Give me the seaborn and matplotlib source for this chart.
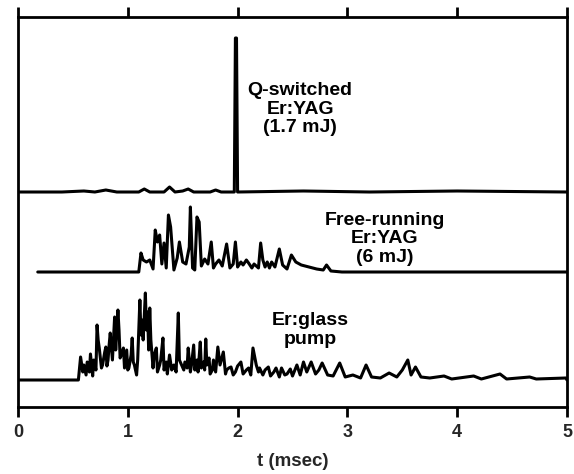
#!/usr/bin/env python
"""
Laser pulse traces: Q-switched Er:YAG, free-running Er:YAG and Er:glass pump.
"""
import matplotlib

matplotlib.use("Agg")
import matplotlib.pyplot as plt
import pandas as pd
import seaborn as sns

# Q-switched Er:YAG (1.7 mJ): time in msec, amplitude in arbitrary units
QS_T = [0.0, 0.40, 0.60, 0.70, 0.80, 0.90, 1.10, 1.15, 1.20, 1.33, 1.38,
        1.43, 1.50, 1.55, 1.60, 1.75, 1.80, 1.85, 1.97, 1.98, 1.99, 2.00,
        2.6, 3.2, 4.0, 5.0]
QS_Y = [0, 0, 1, 0, 2, 0, 0, 3, 0, 0, 5,
        0, 1, 3, 0, 0, 2, 0, 0, 154, 154, 0,
        1, 0, 1, 0]

# Free-running Er:YAG (6 mJ)
FR_T = [0.18, 1.10, 1.12, 1.14, 1.17, 1.20, 1.23, 1.25, 1.27, 1.29, 1.31,
        1.33, 1.35, 1.37, 1.39, 1.42, 1.45, 1.47, 1.50, 1.53, 1.56, 1.57,
        1.59, 1.61, 1.63, 1.65, 1.67, 1.70, 1.73, 1.76, 1.78, 1.80, 1.83,
        1.86, 1.90, 1.93, 1.96, 1.98, 2.00, 2.03, 2.05, 2.08, 2.10, 2.13,
        2.15, 2.19, 2.21, 2.23, 2.25, 2.27, 2.29, 2.31, 2.34, 2.38, 2.41,
        2.45, 2.49, 2.53, 2.58, 2.65, 2.72, 2.78, 2.81, 2.85, 2.95, 5.0]
FR_Y = [0, 0, 19, 12, 10, 12, 3, 42, 30, 37, 8,
        29, 4, 57, 45, 2, 14, 30, 10, 8, 25, 65,
        4, 2, 55, 50, 6, 13, 8, 30, 4, 8, 12,
        6, 28, 4, 8, 30, 5, 10, 7, 12, 9, 4,
        8, 4, 29, 12, 5, 10, 4, 10, 5, 23, 7,
        3, 17, 10, 7, 5, 3, 2, 7, 1, 0, 0]

# Er:glass pump
EG_T = [0.0, 0.55, 0.57, 0.59, 0.60, 0.62, 0.63, 0.65, 0.66, 0.68, 0.69,
        0.71, 0.72, 0.73, 0.74, 0.76, 0.77, 0.79, 0.80, 0.81, 0.82, 0.83,
        0.84, 0.86, 0.88, 0.89, 0.91, 0.92, 0.93, 0.95, 0.96, 0.97, 0.99,
        1.00, 1.01, 1.03, 1.04, 1.05, 1.06, 1.08, 1.09, 1.11, 1.12, 1.13,
        1.14, 1.16, 1.17, 1.18, 1.19, 1.20, 1.21, 1.23, 1.24, 1.26, 1.27,
        1.29, 1.30, 1.32, 1.33, 1.35, 1.36, 1.38, 1.40, 1.42, 1.44, 1.46,
        1.47, 1.49, 1.51, 1.52, 1.54, 1.55, 1.57, 1.58, 1.60, 1.61, 1.63,
        1.64, 1.66, 1.67, 1.69, 1.70, 1.71, 1.72, 1.74, 1.75, 1.77, 1.78,
        1.80, 1.82, 1.84, 1.87, 1.89, 1.90, 1.92, 1.94, 1.96, 1.98, 2.00,
        2.03, 2.05, 2.08, 2.10, 2.12, 2.14, 2.17, 2.19, 2.20, 2.23, 2.25,
        2.28, 2.30, 2.33, 2.35, 2.38, 2.40, 2.43, 2.45, 2.48, 2.50, 2.54,
        2.57, 2.60, 2.63, 2.67, 2.71, 2.74, 2.77, 2.82, 2.87, 2.93, 2.98,
        3.05, 3.12, 3.17, 3.22, 3.30, 3.38, 3.45, 3.50, 3.55, 3.58, 3.62,
        3.67, 3.75, 3.88, 3.95, 4.15, 4.22, 4.39, 4.45, 4.66, 4.72, 4.99,
        5.0]
EG_Y = [0, 0, 23, 8, 15, 5, 18, 8, 26, 4, 20,
        10, 55, 40, 32, 12, 15, 28, 33, 14, 20, 35,
        47, 20, 63, 30, 70, 50, 22, 28, 32, 12, 30,
        10, 12, 25, 42, 18, 15, 5, 20, 80, 45, 60,
        40, 87, 50, 68, 30, 72, 40, 12, 25, 32, 8,
        15, 20, 42, 10, 18, 6, 25, 10, 15, 8, 67,
        20, 15, 10, 18, 12, 32, 8, 15, 35, 10, 20,
        8, 38, 12, 18, 10, 41, 15, 22, 6, 10, 20,
        8, 33, 15, 28, 6, 10, 12, 13, 5, 8, 14,
        18, 6, 10, 12, 5, 32, 15, 8, 12, 5, 10,
        13, 4, 8, 12, 3, 12, 5, 6, 11, 4, 15,
        5, 18, 8, 18, 6, 10, 17, 5, 4, 17, 3,
        5, 2, 15, 3, 2, 7, 3, 10, 20, 5, 13,
        3, 2, 4, 1, 4, 1, 6, 1, 3, 1, 2,
        0]

# Vertical placement of each trace inside the frame
QS_BASE = 215
FR_BASE = 135
EG_BASE = 27

sns.set_theme(style="ticks")
plt.rcParams["font.family"] = ["Liberation Sans", "DejaVu Sans"]
plt.rcParams["font.weight"] = "bold"

fig = plt.figure(figsize=(5.74, 4.74), dpi=100)
ax = fig.add_axes([18 / 574, 1 - 407 / 474, 549 / 574, 390 / 474])

traces = [
    (QS_T, QS_Y, QS_BASE),
    (FR_T, FR_Y, FR_BASE),
    (EG_T, EG_Y, EG_BASE),
]
for t, y, base in traces:
    df = pd.DataFrame({"t": t, "y": [v + base for v in y]})
    sns.lineplot(
        data=df, x="t", y="y", ax=ax, sort=False, estimator=None,
        color="black", linewidth=2.2,
    )

text_kw = dict(
    ha="center", va="center", fontsize=14, fontweight="bold",
    linespacing=1.1, color="black",
)
ax.text(2.57, 298, "Q-switched\nEr:YAG\n(1.7 mJ)", **text_kw)
ax.text(3.34, 168, "Free-running\nEr:YAG\n(6 mJ)", **text_kw)
ax.text(2.66, 77, "Er:glass\npump", **text_kw)

ax.set_xlim(0, 5)
ax.set_ylim(0, 390)
ax.set_xticks([0, 1, 2, 3, 4, 5])
ax.set_yticks([])
ax.set_xlabel("t (msec)", fontsize=13.5, fontweight="bold", labelpad=9)
ax.set_ylabel("")
ax.tick_params(
    axis="x", which="major", direction="out", length=7, width=2,
    top=True, labeltop=False, labelsize=13, pad=5, color="black",
)
for label in ax.get_xticklabels():
    label.set_fontweight("bold")
for spine in ax.spines.values():
    spine.set_visible(True)
    spine.set_linewidth(2)
    spine.set_color("black")

fig.savefig("out.png", dpi=100)
